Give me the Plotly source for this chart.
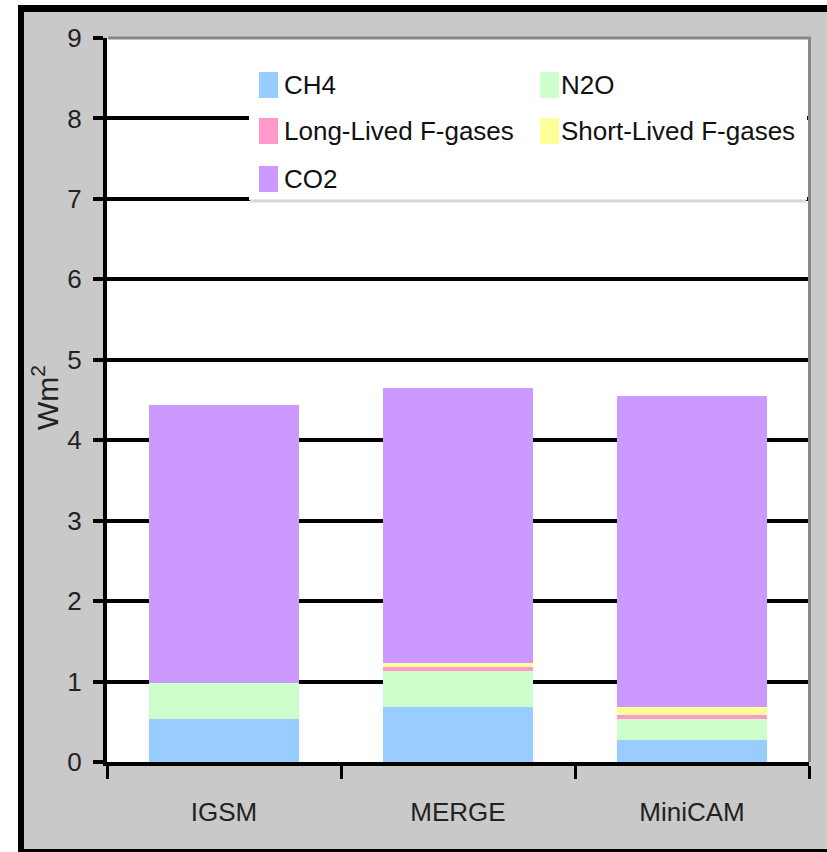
import plotly.graph_objects as go

# ---- data ----
models = ["IGSM", "MERGE", "MiniCAM"]
ch4 = [0.53, 0.68, 0.27]
n2o = [0.45, 0.45, 0.26]
long_lived_f = [0.0, 0.05, 0.05]
short_lived_f = [0.0, 0.05, 0.10]
co2 = [3.46, 3.42, 3.87]

series_names = ["CH4", "N2O", "Long-Lived F-gases", "Short-Lived F-gases", "CO2"]
series_values = [ch4, n2o, long_lived_f, short_lived_f, co2]
series_colors = ["#99ccff", "#ccffcc", "#ff99cc", "#ffff99", "#cc99ff"]
y_ticks = [0, 1, 2, 3, 4, 5, 6, 7, 8, 9]

# ---- layout constants ----
W, H = 827, 852
L, R, T, B = 107, 18, 38, 90
FONT = "Liberation Sans Narrow, Arial Narrow, Liberation Sans, Arial, sans-serif"
FS = 26


def px_x(p):
    return (p - L) / (W - L - R)


def px_y(p):
    return (H - B - p) / (H - T - B)


fig = go.Figure()
for name, vals, col in zip(series_names, series_values, series_colors):
    fig.add_trace(go.Bar(x=models, y=vals, name=name, marker_color=col,
                         marker_line_width=0, showlegend=False))

shapes = []
annotations = []

# outer white margin strips (top and left) and black frame
shapes.append(dict(type="rect", xref="paper", yref="paper", layer="below",
                   x0=px_x(-10), x1=px_x(W + 10), y0=px_y(5), y1=px_y(-10),
                   fillcolor="white", line_width=0))
shapes.append(dict(type="rect", xref="paper", yref="paper", layer="below",
                   x0=px_x(-10), x1=px_x(18), y0=px_y(H + 10), y1=px_y(-10),
                   fillcolor="white", line_width=0))
shapes.append(dict(type="line", xref="paper", yref="paper", layer="above",
                   x0=px_x(18), x1=px_x(W + 10), y0=px_y(8.5), y1=px_y(8.5),
                   line=dict(color="black", width=7)))
shapes.append(dict(type="line", xref="paper", yref="paper", layer="above",
                   x0=px_x(21), x1=px_x(21), y0=px_y(5), y1=px_y(H + 10),
                   line=dict(color="black", width=6)))
shapes.append(dict(type="line", xref="paper", yref="paper", layer="above",
                   x0=px_x(18), x1=px_x(W + 10), y0=px_y(851), y1=px_y(851),
                   line=dict(color="black", width=4)))

# legend box
shapes.append(dict(type="rect", xref="paper", yref="paper", layer="above",
                   x0=px_x(249), x1=px_x(807), y0=px_y(200), y1=px_y(39),
                   fillcolor="white", line_width=0))
shapes.append(dict(type="line", xref="paper", yref="paper", layer="above",
                   x0=px_x(250), x1=px_x(806), y0=px_y(201), y1=px_y(201),
                   line=dict(color="#d9d9d9", width=3)))

# plot-area grey border top/right
shapes.append(dict(type="line", xref="paper", yref="paper", layer="above",
                   x0=px_x(108), x1=px_x(811), y0=1, y1=1,
                   line=dict(color="#888888", width=3)))
shapes.append(dict(type="line", xref="paper", yref="paper", layer="above",
                   x0=px_x(809.5), x1=px_x(809.5), y0=px_y(37), y1=px_y(762),
                   line=dict(color="#888888", width=3)))

# legend entries (order as in the reference)
col_sw_x = [259, 540]
col_txt_x = [282, 559]
row_y = [85, 131, 179]
for i, (name, col) in enumerate(zip(series_names, series_colors)):
    r, c = divmod(i, 2)
    sx = col_sw_x[c]
    cy = row_y[r]
    shapes.append(dict(type="rect", xref="paper", yref="paper", layer="above",
                       x0=px_x(sx), x1=px_x(sx + 19), y0=px_y(cy + 13), y1=px_y(cy - 13),
                       fillcolor=col, line_width=0))
    annotations.append(dict(xref="paper", yref="paper", x=px_x(col_txt_x[c]), y=px_y(cy),
                            xanchor="left", yanchor="middle", showarrow=False,
                            text=name, font=dict(family=FONT, size=FS, color="#111111")))

# y-axis title
annotations.append(dict(xref="paper", yref="paper", x=px_x(45), y=px_y(398),
                        xanchor="center", yanchor="middle", showarrow=False,
                        textangle=-90, text="Wm<sup>2</sup>",
                        font=dict(family=FONT, size=30, color="#222222")))

fig.update_layout(
    width=W, height=H,
    margin=dict(l=L, r=R, t=T, b=B, pad=0),
    paper_bgcolor="#c9c9c9",
    plot_bgcolor="white",
    barmode="stack",
    bargap=0.355,
    showlegend=False,
    shapes=shapes,
    annotations=annotations,
    xaxis=dict(
        type="category", range=[-0.5, 2.5], showgrid=False, zeroline=False,
        showline=True, linecolor="black", linewidth=4,
        ticks="outside", tickson="boundaries", ticklen=13, tickwidth=3, tickcolor="black",
        tickfont=dict(family=FONT, size=FS, color="#222222"),
        ticklabelstandoff=24,
    ),
    yaxis=dict(
        range=[0, 9], tickvals=y_ticks, ticktext=[str(v) for v in y_ticks],
        showgrid=True, gridcolor="black", gridwidth=4, zeroline=False,
        showline=True, linecolor="black", linewidth=4,
        ticks="outside", ticklen=10, tickwidth=4, tickcolor="black",
        tickfont=dict(family=FONT, size=FS, color="#222222"),
        ticklabelstandoff=6,
    ),
)

fig.write_html("out.html")
